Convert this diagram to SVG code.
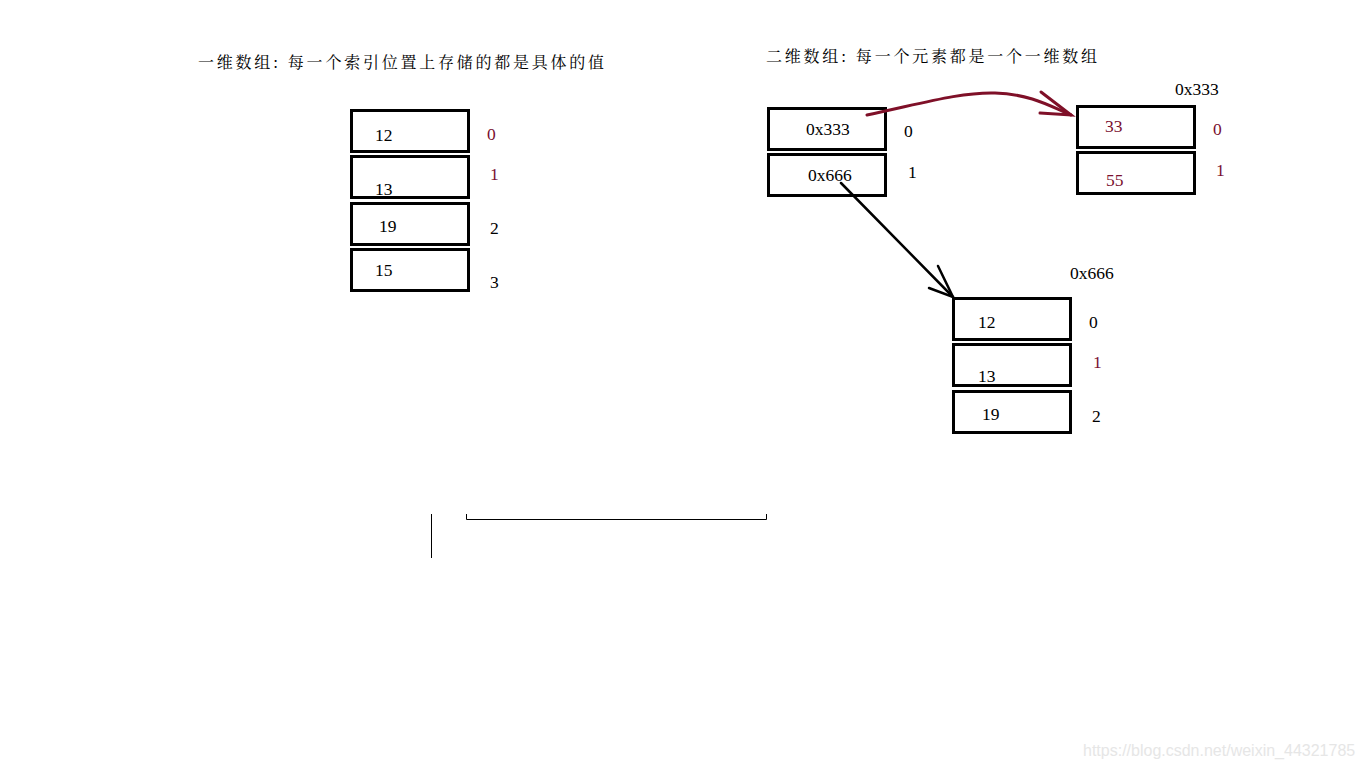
<svg xmlns="http://www.w3.org/2000/svg" width="1362" height="768" viewBox="0 0 1362 768">
<style>
.box{fill:none;stroke:#000;stroke-width:3}
.t{font-family:"Liberation Serif","Times New Roman",serif;font-size:17.5px;fill:#000}
.m{fill:#7a1030}
.cjk{font-family:"Noto Serif CJK SC","Noto Sans CJK SC",serif;font-size:16px;fill:#000}
.wm{font-family:"Liberation Sans",Arial,sans-serif;font-size:16px;fill:#e6e6e6}
</style>
<rect width="1362" height="768" fill="#fff"/>
<g id="title1"><text class="cjk" x="198" y="68" textLength="406" lengthAdjust="spacing">一维数组: 每一个索引位置上存储的都是具体的值</text></g>
<g id="title2"><text class="cjk" x="766" y="62" textLength="331" lengthAdjust="spacing">二维数组: 每一个元素都是一个一维数组</text></g>

<g id="arr1">
<rect class="box" x="351.5" y="110.5" width="117" height="41"/>
<rect class="box" x="351.5" y="156.5" width="117" height="41"/>
<rect class="box" x="351.5" y="203.5" width="117" height="41"/>
<rect class="box" x="351.5" y="249.5" width="117" height="41"/>
<text class="t" x="375" y="141">12</text>
<text class="t" x="375" y="195">13</text>
<text class="t" x="379" y="232">19</text>
<text class="t" x="375" y="276">15</text>
<text class="t m" x="487" y="140">0</text>
<text class="t m" x="490" y="180">1</text>
<text class="t" x="490" y="234">2</text>
<text class="t" x="490" y="288">3</text>
</g>

<g id="arr2">
<rect class="box" x="768.5" y="108.5" width="117" height="41"/>
<rect class="box" x="768.5" y="154.5" width="117" height="41"/>
<text class="t" x="806" y="135">0x333</text>
<text class="t" x="808" y="181">0x666</text>
<text class="t" x="904" y="137">0</text>
<text class="t" x="908" y="178">1</text>
</g>

<g id="arr333">
<text class="t" x="1175" y="95">0x333</text>
<rect class="box" x="1077.5" y="106.5" width="117" height="41"/>
<rect class="box" x="1077.5" y="152.5" width="117" height="41"/>
<text class="t m" x="1105" y="132">33</text>
<text class="t m" x="1106" y="186">55</text>
<text class="t m" x="1213" y="135">0</text>
<text class="t m" x="1216" y="176">1</text>
</g>

<g id="arr666">
<text class="t" x="1070" y="279">0x666</text>
<rect class="box" x="953.5" y="298.5" width="117" height="41"/>
<rect class="box" x="953.5" y="344.5" width="117" height="41"/>
<rect class="box" x="953.5" y="391.5" width="117" height="41"/>
<text class="t" x="978" y="328">12</text>
<text class="t" x="978" y="382">13</text>
<text class="t" x="982" y="420">19</text>
<text class="t" x="1089" y="328">0</text>
<text class="t m" x="1093" y="368">1</text>
<text class="t" x="1092" y="422">2</text>
</g>

<g id="connectors" fill="none" stroke-linecap="round">
<path d="M867,115 C920,104 960,92 995,93 C1030,94 1050,106 1071,115" stroke="#7f1028" stroke-width="3"/>
<path d="M1041,92 L1071,115 L1040,113" stroke="#7f1028" stroke-width="3"/>
<path d="M841,183 L953,297" stroke="#000" stroke-width="2.5"/>
<path d="M938,266 L953,297 L929,288" stroke="#000" stroke-width="2.5"/>
</g>

<g id="marks" stroke="#000" stroke-width="1" fill="none">
<line x1="431.5" y1="514" x2="431.5" y2="558"/>
<path d="M466.5,514 V519.5 H766.5 V514"/>
</g>

<text class="wm" x="1083" y="756">https://blog.csdn.net/weixin_44321785</text>
</svg>
